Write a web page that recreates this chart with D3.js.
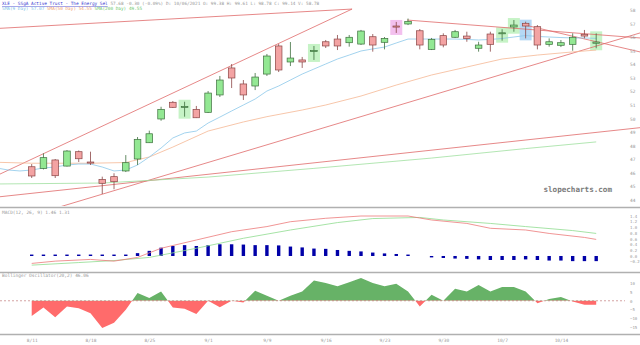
<!DOCTYPE html>
<html>
<head>
<meta charset="utf-8">
<script src="https://cdnjs.cloudflare.com/ajax/libs/d3/7.8.5/d3.min.js"></script>
<style>
  html, body { margin: 0; padding: 0; background: #fff; }
  svg { display: block; }
  text { font-family: "DejaVu Sans Mono", monospace; }
</style>
</head>
<body>
<div id="chart"></div>
<script>
// ---- data ----
const dateLabels = ["8/11", "8/18", "8/25", "9/1", "9/9", "9/16", "9/23", "9/30", "10/7", "10/14"];
const labelIdx = [0, 5, 10, 15, 20, 25, 30, 35, 40, 45];

const opens  = [46.45, 46.33, 46.95, 46.50, 47.56, 46.80, 45.52, 45.72, 46.14, 47.02, 48.22, 49.97, 51.20, 50.85, 50.68, 50.46, 51.74, 53.73, 52.55, 52.40, 53.28, 55.35, 54.17, 54.32, 54.94, 55.66, 55.86, 55.59, 55.49, 56.03, 55.62, 56.82, 56.97, 56.47, 55.10, 56.11, 55.99, 56.08, 55.18, 56.23, 56.25, 56.75, 57.02, 56.77, 55.47, 55.40, 55.47, 56.21, 55.55];
const highs  = [46.65, 47.44, 47.02, 47.68, 47.65, 47.56, 45.72, 45.97, 47.31, 48.64, 49.11, 50.87, 51.29, 51.24, 50.93, 52.03, 53.14, 54.02, 52.84, 53.36, 54.76, 55.49, 55.64, 54.54, 55.35, 55.79, 56.16, 56.16, 56.53, 56.23, 56.01, 57.12, 57.37, 56.60, 55.94, 56.28, 56.53, 56.40, 55.66, 56.40, 56.58, 57.26, 57.14, 56.89, 55.91, 55.79, 56.28, 56.53, 56.28];
const lows   = [45.62, 46.25, 45.62, 46.47, 46.80, 46.58, 44.44, 44.79, 46.06, 46.58, 48.20, 49.84, 50.78, 50.14, 50.04, 50.41, 51.59, 52.25, 51.37, 52.10, 53.14, 53.43, 53.87, 53.73, 54.32, 55.20, 55.05, 55.30, 55.42, 54.93, 55.10, 56.31, 56.89, 55.10, 55.05, 55.25, 55.94, 55.66, 54.93, 54.93, 55.74, 56.40, 55.91, 55.10, 55.30, 55.27, 55.00, 55.91, 55.18];
const closes = [45.77, 47.12, 45.79, 47.61, 47.04, 46.72, 45.23, 45.35, 46.75, 48.47, 48.88, 50.68, 50.83, 50.90, 50.06, 51.88, 52.84, 52.99, 51.74, 53.06, 54.61, 53.58, 54.46, 54.17, 55.02, 55.35, 55.35, 55.99, 56.45, 55.42, 55.91, 56.74, 57.15, 55.42, 55.84, 55.42, 56.40, 55.89, 55.42, 55.47, 56.32, 56.89, 56.82, 55.42, 55.66, 55.59, 55.99, 56.08, 55.64];

// highlighted bars: index and box colour
const hiIdx = [13, 24, 31, 40, 41, 42, 48];
const hiCol = ["#c6f3c6", "#c6f3c6", "#f3c0ee", "#c6f3c6", "#c6f3c6", "#b5d8f5", "#c6f3c6"];

// moving averages (index -3 .. 48)
const sma9 = [46.36, 46.21, 46.14, 46.21, 46.36, 46.43, 46.58, 46.65, 46.65, 46.43, 46.14, 46.21, 46.58, 47.17, 47.83, 48.57, 48.94, 49.08, 49.67, 50.11, 50.56, 51.00, 51.44, 52.03, 52.40, 52.84, 53.28, 53.65, 54.02, 54.39, 54.68, 54.98, 55.13, 55.27, 55.57, 55.86, 55.86, 55.86, 55.86, 55.86, 55.83, 55.79, 55.83, 55.90, 56.01, 56.12, 56.05, 56.01, 55.97, 55.94, 55.94, 55.91];
const sma50Idx = [-3, 0, 5, 8, 10, 12, 15, 18, 20, 23, 25, 28, 31, 34, 37, 40, 43, 46, 48];
const sma50 = [46.78, 46.71, 46.71, 46.76, 47.17, 47.90, 49.08, 49.75, 50.14, 50.63, 51.00, 51.66, 52.47, 53.21, 53.80, 54.39, 54.68, 54.91, 55.05];
const sma200Idx = [-3, 6, 15, 24, 34, 42, 48];
const sma200 = [45.18, 45.25, 45.69, 46.33, 47.09, 47.79, 48.28];

// trend lines [i1, p1, i2, p2]
const trendLines = [
  [-2.7, 56.65, 27.24, 58.07],
  [-2.7, 45.91, 27.24, 58.07],
  [1.81, 43.34, 51.73, 56.31],
  [-2.7, 44.24, 51.73, 49.33],
  [31.91, 57.26, 51.73, 55.94],
  [41.95, 56.89, 51.73, 54.91]
];
const priceTicks = [58, 57, 56, 55, 54, 53, 52, 51, 50, 49, 48, 47, 46, 45, 44];

// MACD
const macdIdx = [0, 2, 5, 7, 9, 11, 14, 17, 20, 22, 25, 28, 32, 34, 37, 39, 42, 44, 47, 48];
const macdVal = [-0.26, -0.18, -0.12, -0.18, -0.05, 0.27, 0.56, 0.85, 1.03, 1.20, 1.32, 1.40, 1.40, 1.26, 1.14, 0.97, 0.91, 0.79, 0.65, 0.58];
const sigIdx = [0, 4, 7, 10, 14, 18, 22, 26, 29, 33, 35, 39, 42, 46, 48];
const sigVal = [-0.32, -0.23, -0.16, -0.05, 0.27, 0.62, 0.91, 1.17, 1.31, 1.35, 1.26, 1.14, 1.03, 0.89, 0.79];
const histVal = [0.05, 0.05, 0.05, 0.05, 0.05, 0.05, 0.05, 0.05, 0.05, 0.10, 0.18, 0.29, 0.35, 0.38, 0.35, 0.38, 0.41, 0.41, 0.40, 0.38, 0.38, 0.37, 0.33, 0.30, 0.26, 0.25, 0.21, 0.18, 0.16, 0.12, 0.09, 0.07, 0.05, 0, -0.05, -0.07, -0.09, -0.10, -0.12, -0.14, -0.14, -0.14, -0.12, -0.14, -0.16, -0.16, -0.18, -0.18, -0.18];
const macdTicks = [1.4, 1.2, 1.0, 0.8, 0.6, 0.4, 0.2, 0.0, -0.2];

// Bollinger oscillator
const oscVal = [-8.65, -3.85, -9.42, -3.27, -4.23, -7.12, -15.58, -12.50, -5.19, 4.42, 1.54, 5.38, -3.85, -4.62, -7.50, 0, -3.65, 0, -0.96, 5.77, 2.88, 0, 2.88, 5.38, 11.54, 10.19, 8.27, 10.58, 13.08, 10.19, 8.27, 9.81, 5.38, -3.27, 3.46, 0, 6.92, 5.38, 9.04, 5.38, 7.88, 7.88, 5.38, -1.35, 0.96, 2.12, -0.38, -2.31, -2.31];
const oscTicks = [10, 5, 0, -5, -10, -15];

// ---- drawing ----
const W = 640, H = 345;
const svg = d3.select("#chart").append("svg").attr("width", W).attr("height", H);

const x = d3.scaleLinear().domain([0, 48]).range([31.7, 596.2]);
const y = d3.scaleLinear().domain([44, 58]).range([200, 10]);
const yM = d3.scaleLinear().domain([-0.2, 1.4]).range([261.7, 216]);
const yO = d3.scaleLinear().domain([-15, 10]).range([327, 283.3]);

svg.append("clipPath").attr("id", "mainClip").append("rect").attr("x", 0).attr("y", 0).attr("width", W).attr("height", 206);

const main = svg.append("g").attr("clip-path", "url(#mainClip)");

// highlight boxes
hiIdx.forEach((i, k) => {
  main.append("rect")
    .attr("x", x(i) - 6).attr("width", 12)
    .attr("y", y(highs[i]) - 2).attr("height", y(lows[i]) - y(highs[i]) + 4)
    .attr("fill", hiCol[k]);
});

// trend lines
main.selectAll(".trend").data(trendLines).enter().append("line")
  .attr("x1", d => x(d[0])).attr("y1", d => y(d[1]))
  .attr("x2", d => x(d[2])).attr("y2", d => y(d[3]))
  .attr("stroke", "#e06a6a").attr("stroke-width", 0.8);

// moving averages
const lineP = d3.line().x(d => x(d[0])).y(d => y(d[1]));
main.append("path").datum(sma200.map((v, k) => [sma200Idx[k], v]))
  .attr("d", lineP).attr("fill", "none").attr("stroke", "#9fe09f").attr("stroke-width", 0.8);
main.append("path").datum(sma50.map((v, k) => [sma50Idx[k], v]))
  .attr("d", lineP).attr("fill", "none").attr("stroke", "#f5b894").attr("stroke-width", 0.8);
main.append("path").datum(sma9.map((v, k) => [k - 3, v]))
  .attr("d", lineP).attr("fill", "none").attr("stroke", "#8cc8ea").attr("stroke-width", 0.8);

// candles
const candles = main.selectAll(".candle").data(d3.range(opens.length)).enter().append("g");
candles.append("line")
  .attr("x1", i => x(i)).attr("x2", i => x(i))
  .attr("y1", i => y(highs[i])).attr("y2", i => y(lows[i]))
  .attr("stroke", i => closes[i] >= opens[i] ? "#3d6e3d" : "#8a4545").attr("stroke-width", 0.8);
candles.append("rect")
  .attr("x", i => x(i) - 3.3).attr("width", 6.6)
  .attr("y", i => y(Math.max(opens[i], closes[i])))
  .attr("height", i => Math.max(1, Math.abs(y(opens[i]) - y(closes[i]))))
  .attr("fill", i => closes[i] >= opens[i] ? "#93e893" : "#f3a3a3")
  .attr("stroke", i => closes[i] >= opens[i] ? "#3d6e3d" : "#8a4545").attr("stroke-width", 0.7);

// price axis
const axY = svg.append("g").attr("transform", "translate(628,0)")
  .call(d3.axisRight(y).tickValues(priceTicks).tickSize(0).tickPadding(2));
axY.select(".domain").remove();
axY.selectAll("text").attr("font-size", 4.5).attr("fill", "#999").attr("font-family", "DejaVu Sans Mono");

// watermark
svg.append("text").attr("x", 612).attr("y", 192).attr("text-anchor", "end")
  .attr("font-family", "Liberation Sans, Arial, sans-serif").attr("font-weight", "bold")
  .attr("font-size", 7.6).attr("fill", "#7a7a7a").text("slopecharts.com");

// header
const h1 = svg.append("text").attr("x", 2).attr("y", 5).attr("font-size", 4.4);
h1.append("tspan").attr("fill", "#3a3ad0").attr("text-decoration", "underline").text("XLE - SSgA Active Trust - The Energy Sel");
h1.append("tspan").attr("fill", "#999").text(" 57.68 -0.30 (-0.09%) D: 10/06/2021 O: 99.38 H: 99.61 L: 98.78 C: 99.14 V: 58.78");
const h2 = svg.append("text").attr("x", 2).attr("y", 10).attr("font-size", 4.4);
h2.append("tspan").attr("fill", "#7fbfe6").text("SMA(9 Day) 57.07 ");
h2.append("tspan").attr("fill", "#f0a070").text("SMA(50 Day) 54.55 ");
h2.append("tspan").attr("fill", "#6cc86c").text("SMA(200 Day) 49.55");

// panel separators
[207.5, 272.5, 334.5].forEach(v => {
  svg.append("line").attr("x1", 0).attr("x2", W).attr("y1", v).attr("y2", v)
    .attr("stroke", "#b0b0b0").attr("stroke-width", 1.5);
});

// ---- MACD panel ----
svg.append("text").attr("x", 2).attr("y", 214).attr("font-size", 4.5).attr("fill", "#999")
  .text("MACD(12, 26, 9) 1.46 1.31");
svg.selectAll(".hist").data(histVal).enter().append("rect")
  .attr("x", (d, i) => x(i) - 1.7).attr("width", 3.4)
  .attr("y", d => yM(Math.max(0, d)))
  .attr("height", d => Math.abs(yM(d) - yM(0)))
  .attr("fill", "#0000a8");
const lineM = d3.line().x(d => x(d[0])).y(d => yM(d[1]));
svg.append("path").datum(sigVal.map((v, k) => [sigIdx[k], v]))
  .attr("d", lineM).attr("fill", "none").attr("stroke", "#8fdc8f").attr("stroke-width", 0.8);
svg.append("path").datum(macdVal.map((v, k) => [macdIdx[k], v]))
  .attr("d", lineM).attr("fill", "none").attr("stroke", "#ec7a7a").attr("stroke-width", 0.8);
const axM = svg.append("g").attr("transform", "translate(628,0)")
  .call(d3.axisRight(yM).tickValues(macdTicks).tickFormat(d3.format(".1f")).tickSize(0).tickPadding(2));
axM.select(".domain").remove();
axM.selectAll("text").attr("font-size", 4).attr("fill", "#999").attr("font-family", "DejaVu Sans Mono");

// ---- Bollinger oscillator panel ----
svg.append("text").attr("x", 2).attr("y", 277).attr("font-size", 4.5).attr("fill", "#999")
  .text("Bollinger Oscillator(20,2)   46.06");
svg.append("clipPath").attr("id", "posClip").append("rect")
  .attr("x", 0).attr("y", 273).attr("width", W).attr("height", yO(0) - 273);
svg.append("clipPath").attr("id", "negClip").append("rect")
  .attr("x", 0).attr("y", yO(0)).attr("width", W).attr("height", 334 - yO(0));
const areaO = d3.area().x((d, i) => x(i)).y0(yO(0)).y1(d => yO(d));
svg.append("path").datum(oscVal).attr("d", areaO).attr("fill", "#67b267").attr("clip-path", "url(#posClip)");
svg.append("path").datum(oscVal).attr("d", areaO).attr("fill", "#ff6b6b").attr("clip-path", "url(#negClip)");
svg.append("line").attr("x1", 0).attr("x2", 625).attr("y1", yO(0)).attr("y2", yO(0))
  .attr("stroke", "#c07a7a").attr("stroke-width", 0.7).attr("stroke-dasharray", "2,2");
const axO = svg.append("g").attr("transform", "translate(628,0)")
  .call(d3.axisRight(yO).tickValues(oscTicks).tickSize(0).tickPadding(2));
axO.select(".domain").remove();
axO.selectAll("text").attr("font-size", 4).attr("fill", "#999").attr("font-family", "DejaVu Sans Mono");

// ---- date axis ----
const axX = svg.append("g").attr("transform", "translate(0,336)")
  .call(d3.axisBottom(x).tickValues(labelIdx).tickFormat((d, k) => dateLabels[k]).tickSize(0).tickPadding(3));
axX.select(".domain").remove();
axX.selectAll("text").attr("font-size", 4.5).attr("fill", "#999").attr("font-family", "DejaVu Sans Mono");
</script>
</body>
</html>
